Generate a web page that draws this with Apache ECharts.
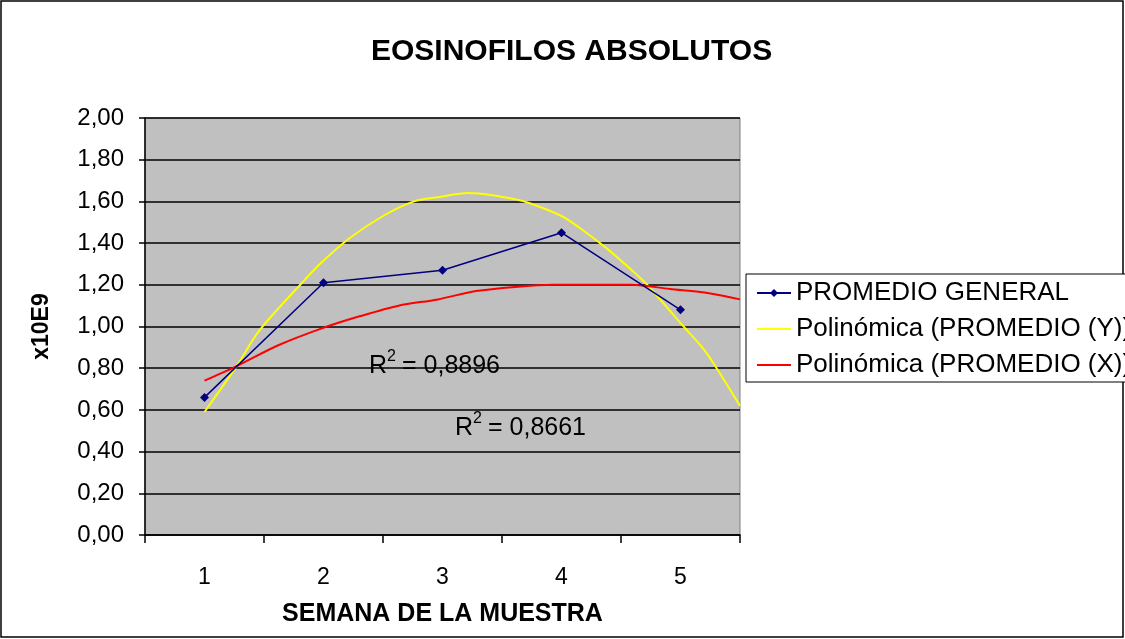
<!DOCTYPE html>
<html>
<head>
<meta charset="utf-8">
<script src="https://cdn.jsdelivr.net/npm/echarts@6/dist/echarts.min.js"></script>
<style>
  html, body { margin: 0; padding: 0; background: #fff; }
  #chart { width: 1125px; height: 639px; }
</style>
</head>
<body>
<div id="chart"></div>
<script>
const semanas = ["1", "2", "3", "4", "5"];
const promedio = [0.66, 1.21, 1.27, 1.45, 1.08];

// trend lines (x in weeks, y in x10E9)
const polyYx = [1.0, 1.27, 1.46, 1.82, 1.97, 2.21, 2.5, 2.76, 2.96, 3.22, 3.42, 3.61, 3.74, 4.0, 4.16, 4.39, 4.59, 4.72, 5.01, 5.21, 5.37, 5.5];
const polyYy = [0.59, 0.81, 0.98, 1.21, 1.3, 1.42, 1.53, 1.6, 1.62, 1.64, 1.63, 1.61, 1.59, 1.53, 1.47, 1.37, 1.27, 1.2, 1.01, 0.88, 0.74, 0.62];
const polyXx = [1.0, 1.27, 1.62, 1.98, 2.31, 2.63, 2.96, 3.28, 3.61, 3.93, 4.26, 4.59, 4.91, 5.24, 5.5];
const polyXy = [0.74, 0.81, 0.91, 0.99, 1.05, 1.1, 1.13, 1.17, 1.19, 1.2, 1.2, 1.2, 1.18, 1.16, 1.13];

const r2Labels = ["0,8896", "0,8661"];
const yTicks = [0, 0.2, 0.4, 0.6, 0.8, 1.0, 1.2, 1.4, 1.6, 1.8, 2.0];

const font = "Liberation Sans, Arial, sans-serif";
const lineIcon = "path://M0,0H34V2H0Z";
const chart = echarts.init(document.getElementById("chart"));

// R² label: R, raised 2, then "= value"
const r2 = (x, y, value) => ({
  type: "group",
  x: x,
  y: y,
  children: [
    { type: "text", x: 0, y: 0, style: { text: "R", font: `25px ${font}`, fill: "#000" } },
    { type: "text", x: 18, y: -5, style: { text: "2", font: `16px ${font}`, fill: "#000" } },
    { type: "text", x: 33, y: 0, style: { text: "= " + value, font: `25px ${font}`, fill: "#000" } },
  ],
});

chart.setOption({
  backgroundColor: "#fff",
  animation: false,
  textStyle: { fontFamily: font },
  title: {
    text: "EOSINOFILOS ABSOLUTOS",
    left: 366,
    top: 32,
    textStyle: { fontFamily: font, fontSize: 30, fontWeight: "bold", color: "#000" },
  },
  grid: {
    left: 145,
    right: 385,
    top: 118,
    bottom: 104,
    show: true,
    backgroundColor: "#C0C0C0",
    borderColor: "#808080",
    borderWidth: 1,
  },
  legend: {
    orient: "vertical",
    left: 746,
    top: 274,
    padding: [6, 6, 4, 10],
    itemWidth: 34,
    itemHeight: 10,
    itemGap: 10,
    borderColor: "#000",
    borderWidth: 1,
    backgroundColor: "#fff",
    textStyle: { fontFamily: font, fontSize: 26, color: "#000" },
    data: [
      { name: "PROMEDIO GENERAL" },
      { name: "Polinómica (PROMEDIO (Y))", icon: lineIcon },
      { name: "Polinómica (PROMEDIO (X))", icon: lineIcon },
    ],
  },
  xAxis: [
    {
      type: "category",
      data: semanas,
      boundaryGap: true,
      name: "SEMANA DE LA MUESTRA",
      nameLocation: "middle",
      nameGap: 67,
      nameTextStyle: { fontFamily: font, fontSize: 25, fontWeight: "bold", color: "#000" },
      axisLine: { lineStyle: { color: "#000", width: 1.5 } },
      axisTick: { show: true, length: 8, lineStyle: { color: "#000", width: 1.5 } },
      axisLabel: { fontFamily: font, fontSize: 23, color: "#000", margin: 31 },
      splitLine: { show: false },
    },
    {
      type: "value",
      min: 0.5,
      max: 5.5,
      show: false,
    },
  ],
  yAxis: {
    type: "value",
    min: 0,
    max: 2,
    interval: 0.2,
    name: "x10E9",
    nameLocation: "middle",
    nameGap: 92,
    nameRotate: 90,
    nameTextStyle: { fontFamily: font, fontSize: 23, fontWeight: "bold", color: "#000" },
    axisLine: { show: true, lineStyle: { color: "#000", width: 1.5 } },
    axisTick: { show: true, length: 6, lineStyle: { color: "#000", width: 1.5 } },
    axisLabel: {
      fontFamily: font,
      fontSize: 24,
      color: "#000",
      margin: 21,
      formatter: (v) => {
        const t = yTicks.find((k) => Math.abs(k - v) < 1e-6);
        return (t === undefined ? v : t).toFixed(2).replace(".", ",");
      },
    },
    splitLine: { show: true, lineStyle: { color: "#000", width: 1.5 } },
  },
  series: [
    {
      name: "Polinómica (PROMEDIO (Y))",
      type: "line",
      xAxisIndex: 1,
      data: polyYx.map((x, i) => [x, polyYy[i]]),
      smooth: 0.3,
      symbol: "none",
      lineStyle: { color: "#FFFF00", width: 2 },
      itemStyle: { color: "#FFFF00" },
    },
    {
      name: "Polinómica (PROMEDIO (X))",
      type: "line",
      xAxisIndex: 1,
      data: polyXx.map((x, i) => [x, polyXy[i]]),
      smooth: 0.3,
      symbol: "none",
      lineStyle: { color: "#FF0000", width: 2 },
      itemStyle: { color: "#FF0000" },
    },
    {
      name: "PROMEDIO GENERAL",
      type: "line",
      data: promedio,
      symbol: "diamond",
      symbolSize: 9,
      lineStyle: { color: "#000080", width: 1.5 },
      itemStyle: { color: "#000080" },
    },
  ],
  graphic: [
    {
      type: "rect",
      shape: { x: 1, y: 1, width: 1122, height: 636 },
      style: { fill: null, stroke: "#000", lineWidth: 1.5 },
      silent: true,
    },
    r2(369, 354, r2Labels[0]),
    r2(455, 416, r2Labels[1]),
  ],
});
</script>
</body>
</html>
